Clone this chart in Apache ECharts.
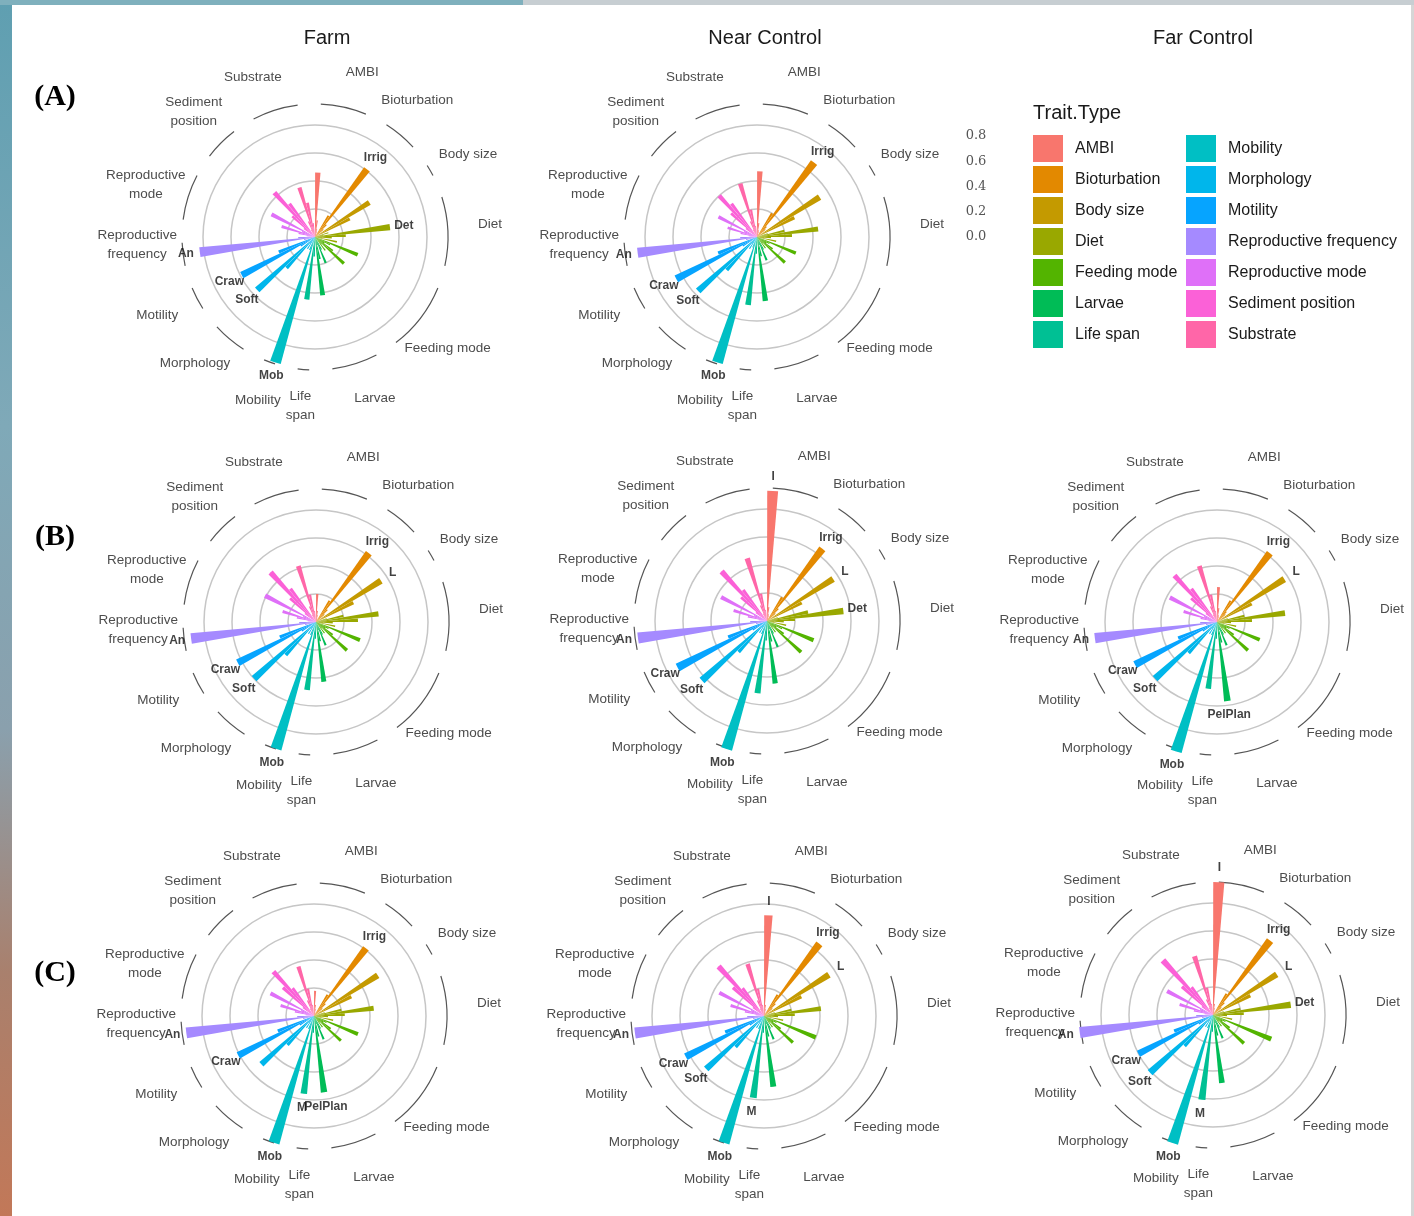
<!DOCTYPE html>
<html>
<head>
<meta charset="utf-8">
<script src="https://cdn.jsdelivr.net/npm/echarts@6/dist/echarts.min.js"></script>
<style>html,body{margin:0;padding:0;background:#fff}#c{width:1414px;height:1216px}</style>
</head>
<body>
<div id="c"></div>
<script>
// ---------- DATA ----------
const traitTypes = ['AMBI','Bioturbation','Body size','Diet','Feeding mode','Larvae','Life span','Mobility','Morphology','Motility','Reproductive frequency','Reproductive mode','Sediment position','Substrate'];
const traitColors = ['#F8766D','#E38900','#C49A00','#99A800','#53B400','#00BC56','#00C094','#00BFC4','#00B6EB','#06A4FF','#A58AFF','#DF70F8','#FB61D7','#FF66A8'];
const groupLabels = ['AMBI','Bioturbation','Body size','Diet','Feeding mode','Larvae','Life\nspan','Mobility','Morphology','Motility','Reproductive\nfrequency','Reproductive\nmode','Sediment\nposition','Substrate'];
const modalities = [
  ['I','II','III','IV','V'],
  ['Diff','Irrig','Surf','UpDown'],
  ['L','Sm'],
  ['Carn','Chemo','Det','Graz','Omni','Scav','Susp'],
  ['Dep','Filt','Grz','Pred','Scv','Sus','Para'],
  ['Ben','Dir','Lec','PelLec','PelPlan'],
  ['Lsh','M'],
  ['Mob','Sess'],
  ['Crust','Exo','Tun','Soft'],
  ['Burr','Craw','Swim'],
  ['Sem','An','Iter'],
  ['Asex','Brood','Broad','DirDev','Vivi'],
  ['Surface','D0_5','D5_10','D10'],
  ['Mud','Sand','Grav','Rock','Shell']
];
const columnTitles = ['Farm','Near Control','Far Control'];
const rowTitles = ['(A)','(B)','(C)'];
const scaleTicks = ['0.8','0.6','0.4','0.2','0.0'];

const valsFarmA = [0.46,0.12,0.06,0.04,0.02, 0.18,0.61,0.12,0.08, 0.46,0.28, 0.10,0.06,0.54,0.22,0.12,0.05,0.16, 0.33,0.12,0.08,0.16,0.28,0.07,0.12, 0.10,0.20,0.06,0.16,0.42, 0.14,0.45, 0.94,0.10, 0.10,0.06,0.30,0.56, 0.12,0.59,0.28, 0.08,0.83,0.12, 0.06,0.12,0.25,0.10,0.35, 0.10,0.22,0.43,0.30, 0.06,0.12,0.37,0.25,0.10];
const valsNearA = [0.47,0.10,0.05,0.04,0.02, 0.20,0.67,0.10,0.08, 0.53,0.30, 0.08,0.20,0.44,0.25,0.10,0.05,0.14, 0.30,0.10,0.08,0.14,0.27,0.06,0.10, 0.10,0.18,0.06,0.14,0.46, 0.12,0.49, 0.94,0.08, 0.10,0.06,0.32,0.57, 0.12,0.65,0.30, 0.08,0.86,0.12, 0.06,0.12,0.22,0.10,0.31, 0.10,0.25,0.40,0.30, 0.06,0.12,0.40,0.20,0.08];
const valsFarmB = [0.20,0.08,0.05,0.03,0.02, 0.18,0.62,0.12,0.08, 0.55,0.30, 0.08,0.20,0.45,0.30,0.12,0.05,0.14, 0.34,0.10,0.08,0.15,0.30,0.06,0.10, 0.10,0.18,0.06,0.14,0.43, 0.12,0.49, 0.95,0.10, 0.10,0.06,0.32,0.60, 0.12,0.63,0.28, 0.08,0.90,0.12, 0.06,0.14,0.25,0.10,0.41, 0.10,0.25,0.48,0.30, 0.06,0.12,0.42,0.20,0.08];
const valsNearB = [0.93,0.10,0.05,0.04,0.02, 0.20,0.65,0.12,0.08, 0.56,0.28, 0.08,0.30,0.55,0.20,0.12,0.05,0.14, 0.36,0.12,0.08,0.15,0.33,0.06,0.10, 0.10,0.20,0.06,0.15,0.45, 0.14,0.52, 0.96,0.10, 0.10,0.06,0.30,0.63, 0.12,0.72,0.30, 0.08,0.93,0.12, 0.06,0.14,0.25,0.10,0.37, 0.10,0.25,0.48,0.28, 0.06,0.12,0.47,0.20,0.08];
const valsFarB  = [0.25,0.10,0.05,0.04,0.02, 0.18,0.62,0.10,0.08, 0.57,0.28, 0.08,0.20,0.49,0.25,0.10,0.05,0.14, 0.33,0.10,0.08,0.15,0.30,0.06,0.10, 0.10,0.18,0.06,0.15,0.57, 0.12,0.48, 0.97,0.10, 0.10,0.06,0.30,0.60, 0.12,0.66,0.30, 0.08,0.88,0.12, 0.06,0.12,0.25,0.10,0.38, 0.10,0.25,0.45,0.30, 0.06,0.12,0.42,0.20,0.08];
const valsFarmC = [0.18,0.08,0.05,0.03,0.02, 0.18,0.61,0.12,0.08, 0.54,0.30, 0.08,0.20,0.43,0.22,0.10,0.05,0.14, 0.34,0.10,0.08,0.15,0.26,0.06,0.10, 0.10,0.18,0.06,0.15,0.55, 0.12,0.56, 0.95,0.10, 0.10,0.06,0.28,0.51, 0.12,0.61,0.28, 0.08,0.92,0.12, 0.06,0.14,0.25,0.10,0.35, 0.10,0.30,0.43,0.25, 0.06,0.12,0.37,0.20,0.08];
const valsNearC = [0.72,0.08,0.05,0.03,0.02, 0.18,0.65,0.12,0.08, 0.55,0.30, 0.08,0.20,0.41,0.22,0.10,0.05,0.14, 0.40,0.10,0.08,0.15,0.28,0.06,0.10, 0.10,0.18,0.06,0.15,0.51, 0.12,0.59, 0.95,0.10, 0.10,0.06,0.30,0.56, 0.12,0.63,0.30, 0.08,0.93,0.12, 0.06,0.14,0.25,0.10,0.36, 0.10,0.30,0.48,0.25, 0.06,0.12,0.39,0.20,0.08];
const valsFarC  = [0.95,0.08,0.05,0.03,0.02, 0.18,0.67,0.12,0.08, 0.54,0.30, 0.08,0.20,0.56,0.22,0.10,0.05,0.14, 0.45,0.10,0.08,0.15,0.30,0.06,0.10, 0.10,0.18,0.06,0.15,0.49, 0.12,0.61, 0.96,0.10, 0.10,0.06,0.30,0.61, 0.12,0.60,0.30, 0.08,0.96,0.12, 0.06,0.14,0.25,0.10,0.37, 0.10,0.30,0.53,0.25, 0.06,0.12,0.44,0.20,0.08];

const labFarmA = ['Irrig','Det','An','Craw','Soft','Mob'];
const labNearA = ['Irrig','An','Craw','Soft','Mob'];
const labFarmB = ['Irrig','L','An','Craw','Soft','Mob'];
const labNearB = ['I','Irrig','L','Det','An','Craw','Soft','Mob'];
const labFarB  = ['Irrig','L','An','Craw','Soft','PelPlan','Mob'];
const labFarmC = ['Irrig','An','Craw','M','PelPlan','Mob'];
const labNearC = ['I','Irrig','L','An','Craw','Soft','M','Mob'];
const labFarC  = ['I','Irrig','L','Det','An','Craw','Soft','M','Mob'];

// ---------- LAYOUT ----------
const panels = [
  {vals: valsFarmA, labels: labFarmA, c: [315, 237]},
  {vals: valsNearA, labels: labNearA, c: [757, 237]},
  {vals: valsFarmB, labels: labFarmB, c: [316, 622]},
  {vals: valsNearB, labels: labNearB, c: [767, 621]},
  {vals: valsFarB,  labels: labFarB,  c: [1217, 622]},
  {vals: valsFarmC, labels: labFarmC, c: [314, 1016]},
  {vals: valsNearC, labels: labNearC, c: [764, 1016]},
  {vals: valsFarC,  labels: labFarC,  c: [1213, 1015]}
];
const POLAR_R = 140;      // px for value 1.0
const ARC_R = 0.95;       // group arcs radius (data units)
const LABEL_PAD = 0.1;    // bar label offset beyond bar end
// group title placement tweaks (degrees clockwise, radius in px)
const labelAngleAdj = [3.5, -3.3, 1.5, -1.7, 2.4, -2.9, 0, -0.7, 3.6, 1.2, 4.9, -0.4, 0.8, -3.7];
const labelRadiusPx = [171, 171, 174, 175.5, 173, 172, 169, 172.5, 174, 176, 178, 177, 174, 171.5];

// categories with a spacer after each trait group
const cats = [], groupRange = [], modIndex = [], modTrait = [], flatNames = [];
modalities.forEach((mods, g) => {
  const first = cats.length;
  mods.forEach(m => { modIndex.push(cats.length); modTrait.push(g); flatNames.push(m); cats.push(m); });
  groupRange.push([first, cats.length - 1]);
  cats.push(' '.repeat(g + 1));
});

function renderGroup(params, api) {
  const cs = params.coordSys;
  const cx = cs.cx, cy = cs.cy;
  const p1 = api.coord([api.value(0), api.value(1)]);
  const p2 = api.coord([api.value(0), api.value(2)]);
  const a1 = Math.atan2(p1[1] - cy, p1[0] - cx);
  let a2 = Math.atan2(p2[1] - cy, p2[0] - cx);
  while (a2 < a1) a2 += 2 * Math.PI;
  const r = Math.hypot(p1[0] - cx, p1[1] - cy);
  const g = api.value(3);
  const pl = api.coord([labelRadiusPx[g] / POLAR_R, api.value(1)]);
  const lr = Math.hypot(pl[0] - cx, pl[1] - cy);
  const am = (a1 + a2) / 2 + labelAngleAdj[g] * Math.PI / 180;
  return {
    type: 'group',
    children: [
      {type: 'arc', shape: {cx: cx, cy: cy, r: r, startAngle: a1, endAngle: a2, clockwise: true},
       style: {stroke: '#555555', lineWidth: 1.2, fill: 'none'}},
      {type: 'text', x: cx + lr * Math.cos(am), y: cy + lr * Math.sin(am),
       style: {text: groupLabels[g], align: 'center', verticalAlign: 'middle', fill: '#4d4d4d',
               fontSize: 13.5, fontFamily: 'Liberation Sans', lineHeight: 19}}
    ]
  };
}

const polar = [], angleAxis = [], radiusAxis = [], series = [];
const gridCol = '#c6c6c6';
panels.forEach((p, pi) => {
  polar.push({center: p.c, radius: POLAR_R});
  angleAxis.push({polarIndex: pi, type: 'category', data: cats, startAngle: 90, clockwise: true,
    axisLine: {show: false}, axisTick: {show: false}, axisLabel: {show: false}, splitLine: {show: false}});
  radiusAxis.push({polarIndex: pi, type: 'value', min: 0, max: 1, interval: 0.2,
    axisLine: {show: false}, axisTick: {show: false}, axisLabel: {show: false},
    splitLine: {show: true, lineStyle: {color: ['rgba(0,0,0,0)', gridCol, gridCol, gridCol, gridCol, 'rgba(0,0,0,0)'], width: 1.5}}});
  series.push({type: 'custom', coordinateSystem: 'polar', polarIndex: pi, z: 1, silent: true, clip: false,
    data: groupRange.map((r, g) => [ARC_R, r[0], r[1], g]), encode: {radius: 0, angle: 1}, renderItem: renderGroup});
  traitTypes.forEach((t, ti) => {
    const data = cats.map(() => '-');
    modIndex.forEach((ci, mi) => { if (modTrait[mi] === ti) data[ci] = p.vals[mi]; });
    series.push({type: 'bar', name: t, coordinateSystem: 'polar', polarIndex: pi, data: data, stack: 'panel' + pi,
      barWidth: '96%', itemStyle: {color: traitColors[ti]}, z: 2, silent: true});
  });
  const ld = [];
  modIndex.forEach((ci, mi) => {
    const nm = flatNames[mi];
    if (p.labels.indexOf(nm) >= 0) ld.push({value: [p.vals[mi] + LABEL_PAD, ci], label: {formatter: nm}});
  });
  series.push({type: 'scatter', coordinateSystem: 'polar', polarIndex: pi, data: ld, symbolSize: 1, clip: false,
    itemStyle: {color: 'rgba(0,0,0,0)'}, z: 3, silent: true,
    label: {show: true, position: 'inside', fontWeight: 'bold', fontSize: 12, color: '#111', fontFamily: 'Liberation Sans'}});
});

// ---------- GRAPHIC TEXT / DECOR ----------
const graphic = [
  {type: 'rect', shape: {x: 0, y: 0, width: 12, height: 1216}, z: 0,
   style: {fill: {type: 'linear', x: 0, y: 0, x2: 0, y2: 1, colorStops: [
     {offset: 0, color: '#5f9fb1'}, {offset: 0.35, color: '#7fa9b8'}, {offset: 0.6, color: '#8aa0ad'},
     {offset: 0.8, color: '#a9806d'}, {offset: 1, color: '#c27858'}]}}},
  {type: 'rect', shape: {x: 0, y: 0, width: 523, height: 5}, z: 0, style: {fill: '#7fb0bd'}},
  {type: 'rect', shape: {x: 523, y: 0, width: 891, height: 5}, z: 0, style: {fill: '#c7ced2'}},
  {type: 'rect', shape: {x: 1411, y: 5, width: 3, height: 1211}, z: 0, style: {fill: '#d6d6d6'}},
  {type: 'text', x: 1033, y: 113, style: {text: 'Trait.Type', fill: '#1a1a1a', fontSize: 20, fontFamily: 'Liberation Sans', verticalAlign: 'middle', align: 'left'}}
];
const colX = [327, 765, 1203];
columnTitles.forEach((t, i) => graphic.push({type: 'text', x: colX[i], y: 38,
  style: {text: t, fill: '#1a1a1a', fontSize: 20, fontFamily: 'Liberation Sans', align: 'center', verticalAlign: 'middle'}}));
const rowY = [97, 537, 973];
rowTitles.forEach((t, i) => graphic.push({type: 'text', x: 55, y: rowY[i],
  style: {text: t, fill: '#000', fontSize: 30, fontWeight: 'bold', fontFamily: 'Liberation Serif', align: 'center', verticalAlign: 'middle'}}));
scaleTicks.forEach((t, i) => graphic.push({type: 'text', x: 976, y: 136 + i * 25.2,
  style: {text: t, fill: '#555', fontSize: 13, fontFamily: 'DejaVu Serif', align: 'center', verticalAlign: 'middle'}}));

const ICON = 'path://M0,0H30V27H0Z M37,0V27';
const legendBase = {orient: 'vertical', top: 135, padding: 0, icon: ICON, itemWidth: 37, itemHeight: 27, itemGap: 4,
  selectedMode: false, textStyle: {fontSize: 16, color: '#1a1a1a', fontFamily: 'Liberation Sans'}};

const option = {
  backgroundColor: '#ffffff',
  animation: false,
  polar: polar,
  angleAxis: angleAxis,
  radiusAxis: radiusAxis,
  legend: [
    Object.assign({}, legendBase, {left: 1033, data: traitTypes.slice(0, 7)}),
    Object.assign({}, legendBase, {left: 1186, data: traitTypes.slice(7)})
  ],
  graphic: graphic,
  series: series
};
const chart = echarts.init(document.getElementById('c'), null, {renderer: 'canvas', width: 1414, height: 1216});
chart.setOption(option);
</script>
</body>
</html>
